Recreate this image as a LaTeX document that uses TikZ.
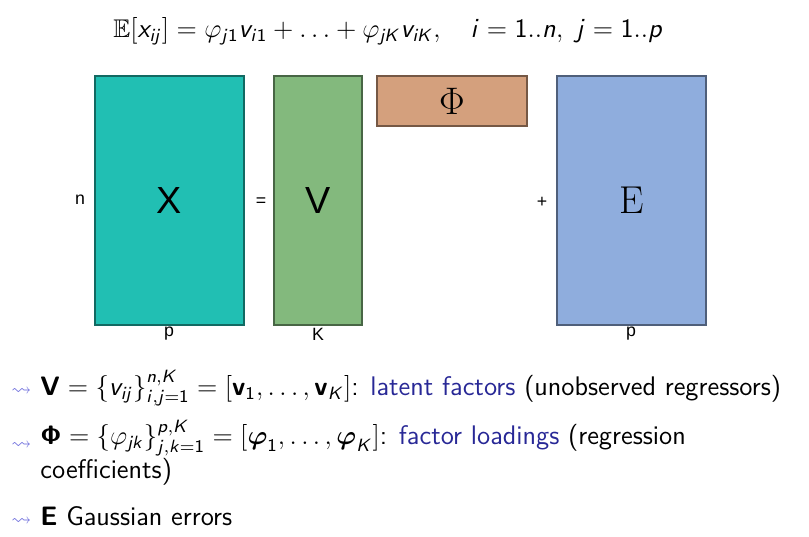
\documentclass[tikz,border=0pt]{standalone}
\usepackage{amsmath}
\usepackage{amssymb}
\usepackage{fontspec}
\usepackage{xcolor}
\usetikzlibrary{shapes,arrows,positioning,fit,backgrounds,calc}
\newfontfamily\arialfont{Liberation Sans}
\DeclareMathAlphabet{\msi}{OT1}{cmss}{m}{sl}
\DeclareMathAlphabet{\msr}{OT1}{cmss}{m}{n}
\DeclareMathAlphabet{\msb}{OT1}{cmss}{bx}{n}
\definecolor{xcol}{RGB}{33,191,179}
\definecolor{vcol}{RGB}{131,185,125}
\definecolor{phicol}{RGB}{212,160,125}
\definecolor{ecol}{RGB}{143,173,221}
\definecolor{navy}{RGB}{40,40,150}
\definecolor{arrcol}{RGB}{110,110,220}
\tikzset{
  matbox/.style={draw=#1!55!black, fill=#1, line width=0.6pt, rectangle, inner sep=0pt},
  dimlbl/.style={font=\arialfont\fontsize{8}{9}\selectfont, inner sep=1pt},
  itemtxt/.style={anchor=base west, font=\sffamily\fontsize{12.1}{13}\selectfont, align=left, inner sep=0pt},
  bul/.style={anchor=base west, text=arrcol, font=\small, inner sep=0pt}
}

\begin{document}
\begin{tikzpicture}[x=0.15822mm,y=-0.15822mm]
% Factor model X = V Phi + E
\useasboundingbox (0,0) rectangle (809,536);
\node[font=\fontsize{11.5}{14}\selectfont] (eq) at (388,31) {$\mathbb{E}[\msi{x}_{\msi{ij}}] = \varphi_{\msi{j}\msr{1}}\msi{v}_{\msi{i}\msr{1}} + \ldots + \varphi_{\msi{jK}}\msi{v}_{\msi{iK}},\quad \msi{i} = \msr{1..}\msi{n},\ \msi{j} = \msr{1..}\msi{p}$};

\node[matbox=xcol, minimum width=23.57mm, minimum height=39.4mm] (xmat) at (169.5,200.5) {\arialfont\fontsize{17}{19}\selectfont X};
\node[matbox=vcol, minimum width=13.92mm, minimum height=39.4mm] (vmat) at (318,200.5) {\arialfont\fontsize{17}{19}\selectfont V};
\node[matbox=phicol, minimum width=23.73mm, minimum height=7.91mm] (phimat) at (452,101) {\fontsize{16}{18}\selectfont$\Phi$};
\node[matbox=ecol, minimum width=23.57mm, minimum height=39.4mm] (emat) at (631.5,200.5) {\fontsize{17.5}{19}\selectfont$\mathrm{E}$};

\node[dimlbl] (n) at (80,200) {n};
\node[dimlbl] (eqs) at (261,202) {=};
\node[dimlbl] (plus) at (542,202) {+};
\node[dimlbl] (p1) at (169,334) {p};
\node[dimlbl] (k) at (318,334) {K};
\node[dimlbl] (p2) at (631,334) {p};

\node[bul] (b1) at (11,395) {$\leadsto$};
\node[itemtxt] (t1) at (40,395) {$\msb{V} = \{\msi{v}_{\msi{ij}}\}_{\msi{i,j}=\msr{1}}^{\msi{n,K}} = [\msb{v}_{\msr{1}},\ldots,\msb{v}_{\msi{K}}]$: \textcolor{navy}{latent factors} (unobserved regressors)};
\node[bul] (b2) at (11,449) {$\leadsto$};
\node[itemtxt] (t2) at (40,478) {$\msb{\Phi} = \{\varphi_{\msi{jk}}\}_{\msi{j,k}=\msr{1}}^{\msi{p,K}} = [\boldsymbol{\varphi}_{\msr{1}},\ldots,\boldsymbol{\varphi}_{\msi{K}}]$: \textcolor{navy}{factor loadings} (regression\\coefficients)};
\node[bul] (b3) at (11,525) {$\leadsto$};
\node[itemtxt] (t3) at (40,525) {$\msb{E}$ Gaussian errors};
\end{tikzpicture}
\end{document}
